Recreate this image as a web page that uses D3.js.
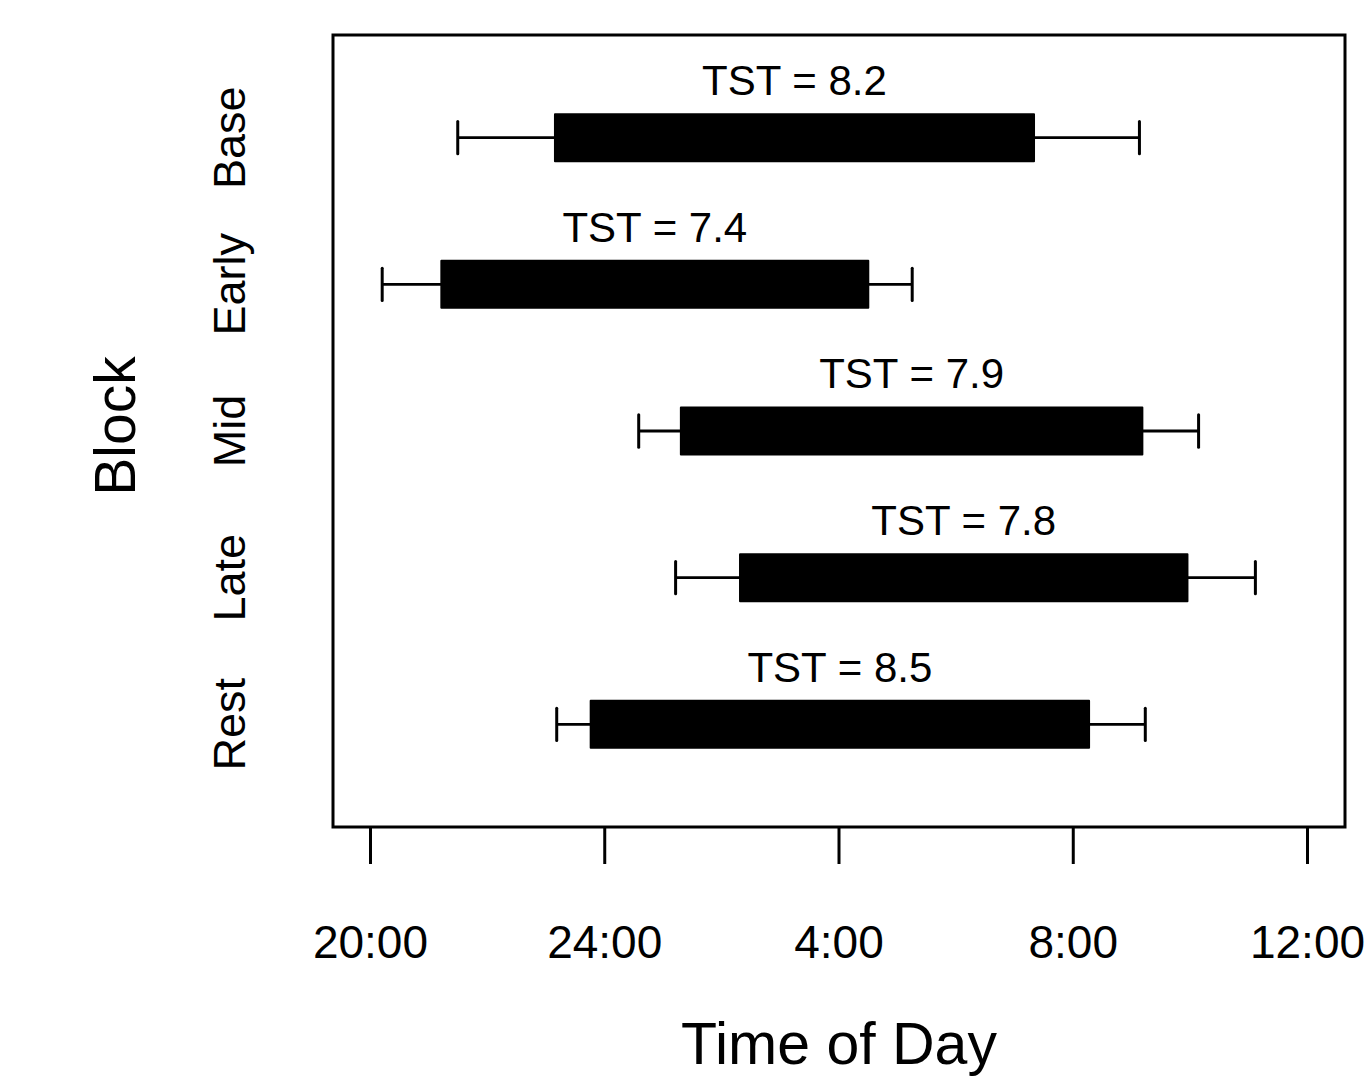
<!DOCTYPE html>
<html lang="en">
<head>
  <meta charset="UTF-8">
  <title>Sleep timing by block</title>
  <script src="https://cdn.jsdelivr.net/npm/d3@7"></script>
  <style>
    * { margin: 0; padding: 0; }
    body { background: #fff; }
    svg { display: block; font-family: "Liberation Sans", Arial, sans-serif; }
  </style>
</head>
<body>
  <div id="chart"></div>
  <script>
  // data, hours since midnight of day 1 (24 = midnight)
  var blocks    = ["Base", "Early", "Mid", "Late", "Rest"];
  var whiskerLo = [21.49, 20.20, 24.58, 25.21, 23.18];
  var boxLo     = [23.15, 21.21, 25.30, 26.31, 23.76];
  var boxHi     = [31.33, 28.50, 33.18, 33.95, 32.27];
  var whiskerHi = [33.13, 29.25, 34.14, 35.11, 33.23];
  var tst       = ["8.2", "7.4", "7.9", "7.8", "8.5"];
  var tickHours  = [20, 24, 28, 32, 36];
  var tickLabels = ["20:00", "24:00", "4:00", "8:00", "12:00"];

  var width = 1372, height = 1078;
  var svg = d3.select("#chart").append("svg")
      .attr("width", width)
      .attr("height", height);

  // R style 4% padding around the limits
  var xlim = [20, 36], ylim = [0.5, 5.5];
  var xpad = (xlim[1] - xlim[0]) * 0.04, ypad = (ylim[1] - ylim[0]) * 0.04;
  var x = d3.scaleLinear().domain([xlim[0] - xpad, xlim[1] + xpad]).range([333, 1345]);
  var y = d3.scaleLinear().domain([ylim[0] - ypad, ylim[1] + ypad]).range([827, 35]);

  // block i drawn top to bottom: Base at 5 ... Rest at 1
  var rows = blocks.map(function (b, i) {
    return { name: b, pos: blocks.length - i, wl: whiskerLo[i], bl: boxLo[i],
             bh: boxHi[i], wh: whiskerHi[i], tst: tst[i] };
  });

  var boxHalf = 0.16, capHalf = 0.11;

  var g = svg.selectAll(".row")
    .data(rows)
    .enter()
    .append("g")
      .attr("class", "row");

  // whisker line
  g.append("line")
    .attr("x1", function (d) { return x(d.wl); })
    .attr("x2", function (d) { return x(d.wh); })
    .attr("y1", function (d) { return y(d.pos); })
    .attr("y2", function (d) { return y(d.pos); })
    .attr("stroke", "#000")
    .attr("stroke-width", 2.8);

  // caps
  ["wl", "wh"].forEach(function (k) {
    g.append("line")
      .attr("x1", function (d) { return x(d[k]); })
      .attr("x2", function (d) { return x(d[k]); })
      .attr("y1", function (d) { return y(d.pos + capHalf); })
      .attr("y2", function (d) { return y(d.pos - capHalf); })
      .attr("stroke", "#000")
      .attr("stroke-width", 3)
      .attr("stroke-linecap", "round");
  });

  // box
  g.append("rect")
    .attr("x", function (d) { return x(d.bl); })
    .attr("width", function (d) { return x(d.bh) - x(d.bl); })
    .attr("y", function (d) { return y(d.pos + boxHalf); })
    .attr("height", function (d) { return y(d.pos - boxHalf) - y(d.pos + boxHalf); })
    .attr("fill", "#000")
    .attr("stroke", "#000")
    .attr("stroke-width", 2)
    .attr("stroke-linejoin", "round");

  // TST label
  g.append("text")
    .attr("x", function (d) { return x((d.bl + d.bh) / 2); })
    .attr("y", function (d) { return y(d.pos + 0.29); })
    .attr("text-anchor", "middle")
    .style("font-size", "42px")
    .text(function (d) { return "TST = " + d.tst; });

  // category labels, rotated
  g.append("text")
    .attr("transform", function (d) { return "translate(245," + y(d.pos) + ") rotate(-90)"; })
    .attr("text-anchor", "middle")
    .style("font-size", "45px")
    .text(function (d) { return d.name; });

  // frame
  svg.append("rect")
    .attr("x", x.range()[0])
    .attr("y", y.range()[1])
    .attr("width", x.range()[1] - x.range()[0])
    .attr("height", y.range()[0] - y.range()[1])
    .attr("fill", "none")
    .attr("stroke", "#000")
    .attr("stroke-width", 3);

  // x axis ticks and labels
  var ax = svg.append("g");
  ax.selectAll("line")
    .data(tickHours)
    .enter()
    .append("line")
      .attr("x1", function (d) { return x(d); })
      .attr("x2", function (d) { return x(d); })
      .attr("y1", 827)
      .attr("y2", 864)
      .attr("stroke", "#000")
      .attr("stroke-width", 3);
  ax.selectAll("text")
    .data(tickHours)
    .enter()
    .append("text")
      .attr("x", function (d) { return x(d); })
      .attr("y", 958)
      .attr("text-anchor", "middle")
      .style("font-size", "46px")
      .text(function (d, i) { return tickLabels[i]; });

  // axis titles
  svg.append("text")
    .attr("x", (x.range()[0] + x.range()[1]) / 2)
    .attr("y", 1064)
    .attr("text-anchor", "middle")
    .style("font-size", "59px")
    .text("Time of Day");

  svg.append("text")
    .attr("transform", "translate(135,426) rotate(-90)")
    .attr("text-anchor", "middle")
    .style("font-size", "57px")
    .text("Block");
  </script>
</body>
</html>
